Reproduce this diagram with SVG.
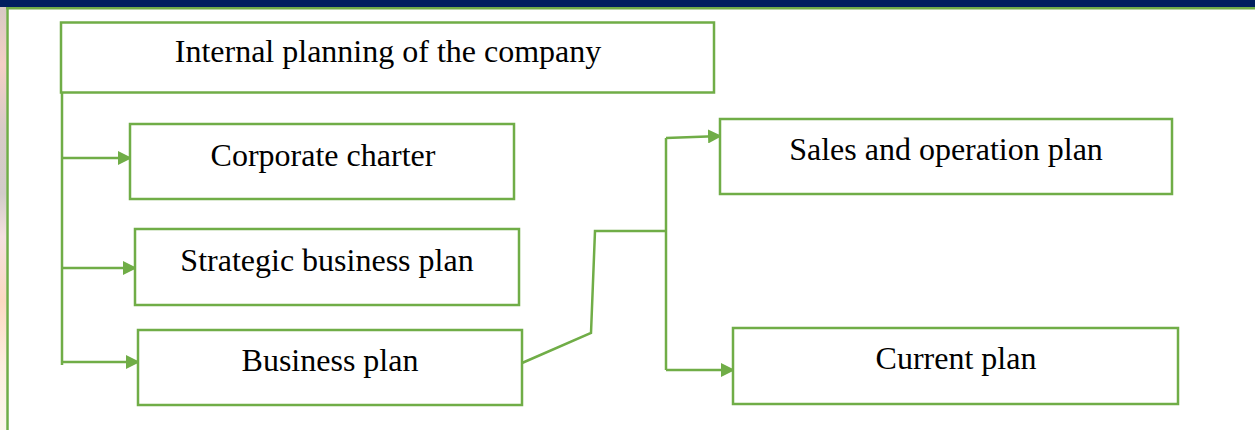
<svg xmlns="http://www.w3.org/2000/svg" width="1255" height="430" viewBox="0 0 1255 430">
<style>
.box{fill:#fff;stroke:#70AD47;stroke-width:2.5}
.lbl{font-family:"Liberation Serif","Times New Roman",serif;font-size:32px;fill:#000;text-anchor:middle}
.ln{fill:none;stroke:#70AD47;stroke-width:2.5}
</style>
<defs>
<marker id="ah" markerWidth="14" markerHeight="14" refX="13" refY="7" orient="auto" markerUnits="userSpaceOnUse">
<path d="M0,0 L14,7 L0,14 Z" fill="#70AD47"/>
</marker>
<linearGradient id="side" x1="0" y1="0" x2="0" y2="1">
<stop offset="0" stop-color="#d3c9c4"/>
<stop offset="0.15" stop-color="#f5cfc6"/>
<stop offset="0.3" stop-color="#d8cbc8"/>
<stop offset="0.45" stop-color="#d2ccc9"/>
<stop offset="0.55" stop-color="#f5e0e0"/>
<stop offset="0.7" stop-color="#fcd9c2"/>
<stop offset="0.85" stop-color="#fdeee0"/>
<stop offset="1" stop-color="#fdf7ec"/>
</linearGradient>
</defs>
<rect width="1255" height="430" fill="#fff"/>
<rect x="0" y="0" width="6.5" height="430" fill="url(#side)"/>
<rect x="0" y="0" width="1255" height="7" fill="#001F5F"/>
<rect x="6" y="7" width="1249" height="2.5" fill="#70AD47"/>
<line x1="7.5" y1="8" x2="7.5" y2="430" stroke="#70AD47" stroke-width="2.5"/>

<g id="connectors">
<polyline class="ln" points="62,88 62,365"/>
<line class="ln" x1="62" y1="158" x2="131" y2="158" marker-end="url(#ah)"/>
<line class="ln" x1="62" y1="268" x2="136" y2="268" marker-end="url(#ah)"/>
<line class="ln" x1="62" y1="362" x2="139" y2="362" marker-end="url(#ah)"/>
<polyline class="ln" points="522,363 591,333 595,231 666,231"/>
<polyline class="ln" points="666,138 666,370"/>
<line class="ln" x1="666" y1="138" x2="721" y2="136" marker-end="url(#ah)"/>
<line class="ln" x1="666" y1="370" x2="734" y2="370" marker-end="url(#ah)"/>
</g>

<g id="node-internal">
<rect class="box" x="61" y="22.5" width="653" height="70"/>
<text class="lbl" x="388" y="62">Internal planning of the company</text>
</g>
<g id="node-charter">
<rect class="box" x="130" y="124" width="384" height="75"/>
<text class="lbl" x="323" y="166">Corporate charter</text>
</g>
<g id="node-strategic">
<rect class="box" x="135" y="229" width="384" height="76"/>
<text class="lbl" x="327" y="271">Strategic business plan</text>
</g>
<g id="node-business">
<rect class="box" x="138" y="330" width="384" height="75"/>
<text class="lbl" x="330" y="371">Business plan</text>
</g>
<g id="node-sales">
<rect class="box" x="720" y="119" width="452" height="75"/>
<text class="lbl" x="946" y="160">Sales and operation plan</text>
</g>
<g id="node-current">
<rect class="box" x="733" y="328" width="445" height="76"/>
<text class="lbl" x="956" y="369">Current plan</text>
</g>
</svg>
